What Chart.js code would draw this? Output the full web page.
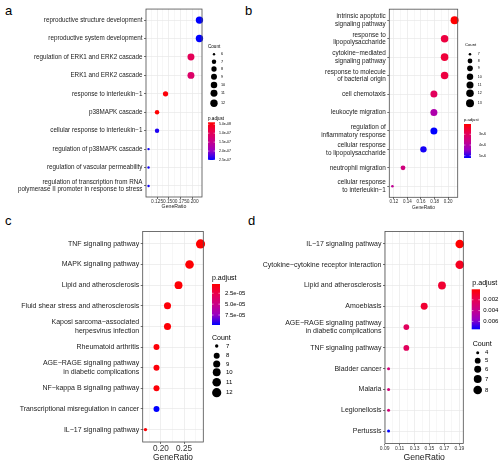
<!DOCTYPE html>
<html><head><meta charset="utf-8">
<script src="https://cdn.jsdelivr.net/npm/chart.js@4/dist/chart.umd.min.js"></script>
<style>
html,body{margin:0;padding:0;background:#fff;width:500px;height:462px;overflow:hidden;font-family:"Liberation Sans",Arial,sans-serif}
canvas{position:absolute}
.lt{position:absolute;font-size:13px;color:#000;line-height:13px}
</style></head><body>
<div class="lt" style="left:5px;top:4px">a</div>
<div class="lt" style="left:245px;top:4px">b</div>
<div class="lt" style="left:5px;top:214px">c</div>
<div class="lt" style="left:248px;top:214px">d</div>
<canvas id="ca" width="250" height="215" style="left:0;top:0"></canvas>
<canvas id="cb" width="250" height="215" style="left:250px;top:0"></canvas>
<canvas id="cc" width="250" height="247" style="left:0;top:215px"></canvas>
<canvas id="cd" width="250" height="247" style="left:250px;top:215px"></canvas>
<script>
// ---------- Panel a ----------
const catsA = ["reproductive structure development","reproductive system development","regulation of ERK1 and ERK2 cascade","ERK1 and ERK2 cascade","response to interleukin−1","p38MAPK cascade","cellular response to interleukin−1","regulation of p38MAPK cascade","regulation of vascular permeability","regulation of transcription from RNA\npolymerase II promoter in response to stress"];
const ratioA = [0.2143,0.2143,0.1964,0.1964,0.1429,0.1250,0.1250,0.1071,0.1071,0.1071];
const countA = [12,12,11,11,8,7,7,6,6,6];
const padjA = [2.5e-7,2.5e-7,9.8e-8,1.13e-7,4.5e-8,3.9e-8,2.4e-7,2.45e-7,2.45e-7,2.45e-7];
const xTicksA = [0.125,0.150,0.175,0.200];
const xTickLabelsA = ["0.125","0.150","0.175","0.200"];
const legendCountsA = [6,7,8,9,10,11,12];
const barBreaksA = [5e-8,1e-7,1.5e-7,2e-7,2.5e-7];
const barLabelsA = ["5.0e-08","1.0e-07","1.5e-07","2.0e-07","2.5e-07"];

// ---------- Panel b ----------
const catsB = ["intrinsic apoptotic\nsignaling pathway","response to\nlipopolysaccharide","cytokine−mediated\nsignaling pathway","response to molecule\nof bacterial origin","cell chemotaxis","leukocyte migration","regulation of\ninflammatory response","cellular response\nto lipopolysaccharide","neutrophil migration","cellular response\nto interleukin−1"];
const ratioB = [0.2097,0.1949,0.1949,0.1949,0.1791,0.1791,0.1791,0.1636,0.1334,0.1177];
const countB = [13,12,12,12,11,11,11,10,8,7];
const padjB = [2.04e-6,2.67e-6,2.6e-6,2.67e-6,2.99e-6,4.1e-6,5.21e-6,5.1e-6,3.47e-6,3.78e-6];
const xTicksB = [0.12,0.14,0.16,0.18,0.20];
const xTickLabelsB = ["0.12","0.14","0.16","0.18","0.20"];
const legendCountsB = [7,8,9,10,11,12,13];
const barBreaksB = [3e-6,4e-6,5e-6];
const barLabelsB = ["3e-6","4e-6","5e-6"];

// ---------- Panel c ----------
const catsC = ["TNF signaling pathway","MAPK signaling pathway","Lipid and atherosclerosis","Fluid shear stress and atherosclerosis","Kaposi sarcoma−associated\nherpesvirus infection","Rheumatoid arthritis","AGE−RAGE signaling pathway\nin diabetic complications","NF−kappa B signaling pathway","Transcriptional misregulation in cancer","IL−17 signaling pathway"];
const ratioC = [0.2857,0.2619,0.2381,0.2143,0.2143,0.1905,0.1905,0.1905,0.1905,0.1667];
const countC = [12,11,10,9,9,8,8,8,8,7];
const padjC = [3.6e-6,4.5e-6,5e-6,6e-6,5.5e-6,6e-6,6.5e-6,6e-6,9.8e-5,5e-6];
const xTicksC = [0.20,0.25];
const xTickLabelsC = ["0.20","0.25"];
const legendCountsC = [7,8,9,10,11,12];
const barBreaksC = [2.5e-5,5e-5,7.5e-5];
const barLabelsC = ["2.5e-05","5.0e-05","7.5e-05"];

// ---------- Panel d ----------
const catsD = ["IL−17 signaling pathway","Cytokine−cytokine receptor interaction","Lipid and atherosclerosis","Amoebiasis","AGE−RAGE signaling pathway\nin diabetic complications","TNF signaling pathway","Bladder cancer","Malaria","Legionellosis","Pertussis"];
const ratioD = [0.1905,0.1905,0.1667,0.1429,0.1190,0.1190,0.0952,0.0952,0.0952,0.0952];
const countD = [8,8,7,6,5,5,4,4,4,4];
const padjD = [5e-5,8e-4,1.2e-3,1.2e-3,2.3e-3,2.3e-3,3.2e-3,3.2e-3,3.2e-3,7.47e-3];
const xTicksD = [0.09,0.11,0.13,0.15,0.17,0.19];
const xTickLabelsD = ["0.09","0.11","0.13","0.15","0.17","0.19"];
const legendCountsD = [4,5,6,7,8];
const barBreaksD = [0.002,0.004,0.006];
const barLabelsD = ["0.002","0.004","0.006"];

const FF = "'Liberation Sans', Arial, sans-serif";
const PAL = [[0,[255,0,0]],[0.25,[232,0,80]],[0.5,[201,0,136]],[0.75,[154,0,194]],[1,[0,0,255]]];
function palColor(t){
  t = Math.max(0, Math.min(1, t));
  for (let i = 1; i < PAL.length; i++) {
    if (t <= PAL[i][0]) {
      const [t0,c0] = PAL[i-1], [t1,c1] = PAL[i];
      const f = (t - t0) / (t1 - t0);
      return 'rgb(' + c0.map((v,k) => Math.round(v + (c1[k]-v)*f)).join(',') + ')';
    }
  }
  return 'rgb(0,0,255)';
}

function panel(id, o) {
  const n = o.cats.length;
  const cmin = Math.min(...o.legendCounts), cmax = Math.max(...o.legendCounts);
  const rad = c => o.rMin + (o.rMax - o.rMin) * Math.sqrt((c - cmin) / (cmax - cmin));
  const pmin = Math.min(...o.padj), pmax = Math.max(...o.padj);
  const lo = Math.min(...o.ratio), hi = Math.max(...o.ratio), R = hi - lo;
  const xmin = lo - 0.05 * R, xmax = hi + 0.05 * R;
  const step = o.xTicks.length > 1 ? o.xTicks[1] - o.xTicks[0] : 0.05;
  const minor = [];
  for (let v = o.xTicks[0] - step / 2; v <= xmax + 1e-9; v += step) if (v >= xmin) minor.push(v);
  const isMajor = v => o.xTicks.some(t => Math.abs(t - v) < 1e-9);
  const L = o.leg;
  const deco = {
    id: 'deco_' + id,
    afterDatasetsDraw(chart) {
      const {ctx, chartArea: a} = chart;
      ctx.save();
      ctx.strokeStyle = '#4d4d4d'; ctx.lineWidth = 0.8;
      ctx.strokeRect(a.left, a.top, a.right - a.left, a.bottom - a.top);
      ctx.restore();
    },
    afterDraw(chart) {
      const ctx = chart.ctx;
      ctx.save();
      ctx.textBaseline = 'middle'; ctx.textAlign = 'left'; ctx.fillStyle = '#000';
      ctx.font = L.titleSize + 'px ' + FF;
      ctx.fillText('p.adjust', L.pTitle[0], L.pTitle[1]);
      const [bx, by, bw, bh] = L.bar;
      const g = ctx.createLinearGradient(0, by, 0, by + bh);
      PAL.forEach(([t, c]) => g.addColorStop(t, 'rgb(' + c.join(',') + ')'));
      ctx.fillStyle = g; ctx.fillRect(bx, by, bw, bh);
      ctx.strokeStyle = '#fff'; ctx.lineWidth = 0.5;
      ctx.font = L.barLabSize + 'px ' + FF; ctx.fillStyle = '#000';
      o.barBreaks.forEach((b, i) => {
        const y = by + (b - pmin) / (pmax - pmin) * bh;
        ctx.beginPath(); ctx.moveTo(bx, y); ctx.lineTo(bx + bw / 5, y);
        ctx.moveTo(bx + bw * 4 / 5, y); ctx.lineTo(bx + bw, y); ctx.stroke();
        ctx.fillText(o.barLabels[i], L.barLabX, y);
      });
      ctx.font = L.titleSize + 'px ' + FF;
      ctx.fillText('Count', L.cTitle[0], L.cTitle[1]);
      ctx.font = L.cLabSize + 'px ' + FF;
      o.legendCounts.forEach((c, i) => {
        const y = L.cY[i];
        ctx.beginPath(); ctx.arc(L.cX, y, rad(c), 0, Math.PI * 2); ctx.fill();
        ctx.fillText(String(c), L.cLabX, y);
      });
      ctx.restore();
    }
  };
  return new Chart(document.getElementById(id), {
    type: 'bubble',
    data: { datasets: [{
      data: o.ratio.map((x, i) => ({x: x, y: i, r: rad(o.count[i])})),
      backgroundColor: o.padj.map(p => palColor((p - pmin) / (pmax - pmin))),
      borderWidth: 0, clip: false
    }]},
    options: {
      responsive: false, animation: false, events: [], devicePixelRatio: 1,
      layout: { padding: { left: 0, right: o.padR, top: o.padT, bottom: 0 } },
      plugins: { legend: { display: false }, tooltip: { enabled: false } },
      scales: {
        x: {
          type: 'linear', min: xmin, max: xmax,
          afterBuildTicks: s => { s.ticks = [...o.xTicks, ...minor].sort((a, b) => a - b).map(v => ({value: v})); },
          afterFit: s => { s.height = o.xAxisH; },
          ticks: { autoSkip: false, maxRotation: 0, minRotation: 0, padding: o.xTickPad, color: '#333',
                   font: { family: FF, size: o.xTickFont, lineHeight: 1 },
                   callback: v => { const i = o.xTicks.findIndex(t => Math.abs(t - v) < 1e-9); return i >= 0 ? o.xTickLabels[i] : ''; } },
          grid: { color: c => (c.tick && isMajor(c.tick.value)) ? '#E8E8E8' : '#F3F3F3', lineWidth: 0.7,
                  tickLength: 2, tickColor: c => (c.tick && isMajor(c.tick.value)) ? '#333' : 'rgba(0,0,0,0)' },
          border: { display: false },
          title: { display: true, text: 'GeneRatio', color: '#222', font: { family: FF, size: o.titleFont, lineHeight: 1 },
                   padding: { top: 0, bottom: o.titlePadB } }
        },
        y: {
          type: 'linear', reverse: true, min: -0.6, max: n - 0.4,
          afterBuildTicks: s => { s.ticks = o.cats.map((_, i) => ({value: i})); },
          afterFit: s => { s.width = o.yAxisW; },
          ticks: { autoSkip: false, padding: 1.5, color: '#222',
                   font: { family: FF, size: o.yFont, lineHeight: 1.2 },
                   callback: v => o.cats[Math.round(v)].split('\n') },
          grid: { color: '#E8E8E8', lineWidth: 0.7, tickLength: 2, tickColor: '#333' },
          border: { display: false }
        }
      }
    },
    plugins: [deco]
  });
}

panel('ca', {
  cats: catsA, ratio: ratioA, count: countA, padj: padjA, xTicks: xTicksA, xTickLabels: xTickLabelsA,
  legendCounts: legendCountsA, barBreaks: barBreaksA, barLabels: barLabelsA,
  rMin: 1.2, rMax: 3.7, padR: 48, padT: 7, yAxisW: 146, xAxisH: 18,
  yFont: 6.3, xTickFont: 4.8, xTickPad: 0.5, titleFont: 5.2, titlePadB: 5.7,
  leg: { titleSize: 4.6, pTitle: [208, 119], bar: [208, 122.3, 7, 37.7], barLabX: 219, barLabSize: 3.5,
         cTitle: [208, 46.7], cX: 214, cY: [54.3, 61.7, 69, 76.7, 85, 93.3, 103.3], cLabX: 221, cLabSize: 3.8 }
});
panel('cb', {
  cats: catsB, ratio: ratioB, count: countB, padj: padjB, xTicks: xTicksB, xTickLabels: xTickLabelsB,
  legendCounts: legendCountsB, barBreaks: barBreaksB, barLabels: barLabelsB,
  rMin: 1.3, rMax: 4.0, padR: 42.3, padT: 7.3, yAxisW: 139.3, xAxisH: 17.7,
  yFont: 6.4, xTickFont: 4.5, xTickPad: 0.5, titleFont: 4.8, titlePadB: 4.6,
  leg: { titleSize: 4.2, pTitle: [214, 119.5], bar: [214, 124, 7, 34], barLabX: 229, barLabSize: 3.5,
         cTitle: [215, 45], cX: 220, cY: [54.3, 61, 68.3, 76.7, 85, 93.3, 103.3], cLabX: 227.7, cLabSize: 3.6 }
});
panel('cc', {
  cats: catsC, ratio: ratioC, count: countC, padj: padjC, xTicks: xTicksC, xTickLabels: xTickLabelsC,
  legendCounts: legendCountsC, barBreaks: barBreaksC, barLabels: barLabelsC,
  rMin: 1.7, rMax: 4.6, padR: 46.7, padT: 16.5, yAxisW: 142.7, xAxisH: 20,
  yFont: 7, xTickFont: 8.2, xTickPad: 0.9, titleFont: 8.4, titlePadB: 0,
  leg: { titleSize: 7.0, pTitle: [212, 62.7], bar: [212, 69, 8, 41], barLabX: 225, barLabSize: 6,
         cTitle: [212, 123.3], cX: 216.7, cY: [131, 140.7, 149, 157.3, 167.3, 177.7], cLabX: 226, cLabSize: 6 }
});
panel('cd', {
  cats: catsD, ratio: ratioD, count: countD, padj: padjD, xTicks: xTicksD, xTickLabels: xTickLabelsD,
  legendCounts: legendCountsD, barBreaks: barBreaksD, barLabels: barLabelsD,
  rMin: 1.5, rMax: 4.3, padR: 36.7, padT: 16.5, yAxisW: 135, xAxisH: 18.5,
  yFont: 7, xTickFont: 5, xTickPad: 0.3, titleFont: 8.7, titlePadB: 0,
  leg: { titleSize: 7.1, pTitle: [222.3, 68.3], bar: [221.7, 74.3, 8.3, 40], barLabX: 233.3, barLabSize: 6,
         cTitle: [222.7, 129], cX: 227.7, cY: [137.7, 145.7, 154.3, 164, 175], cLabX: 235, cLabSize: 6 }
});
</script>
</body></html>
